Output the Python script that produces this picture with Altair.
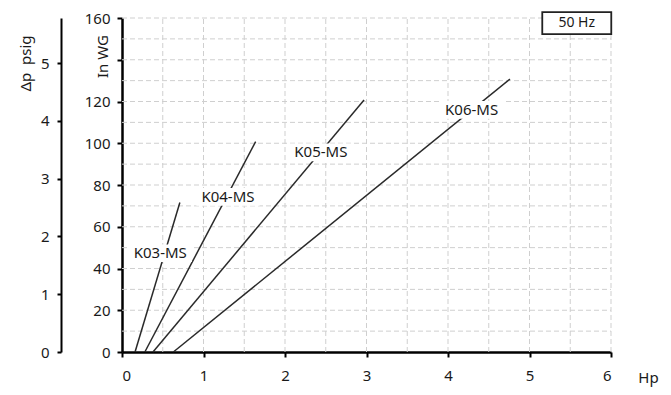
import altair as alt
import pandas as pd

FONT = "Noto Sans"

# Fan curves: two end points each (Hp, In WG)
series = ["K03-MS", "K04-MS", "K05-MS", "K06-MS"]
hp_start = [0.16, 0.28, 0.38, 0.63]
hp_end = [0.71, 1.64, 2.97, 4.76]
wg_start = [0, 0, 0, 0]
wg_end = [71.6, 100.8, 120.7, 130.7]

# label anchor positions
label_hp = [0.47, 1.30, 2.44, 4.29]
label_wg = [47.3, 74.3, 95.6, 116.0]

# grid and ticks
grid_x = [0.5, 1.0, 1.5, 2.0, 2.5, 3.0, 3.5, 4.0, 4.5, 5.0, 5.5, 6.0]
grid_y = [10, 20, 30, 40, 50, 60, 70, 80, 90, 100, 110, 120, 130, 140, 150, 160]
x_ticks = [0, 1, 2, 3, 4, 5, 6]
y_ticks = [0, 20, 40, 60, 80, 100, 120, 140, 160]
psig_ticks = [0, 0.5, 1, 1.5, 2, 2.5, 3, 3.5, 4, 4.5, 5, 5.5]
psig_max = 5.78  # 160 in WG

freq_label = ["50 Hz"]
freq_hp = [5.58]
freq_wg = [157.5]

rows = []
for s, a, b, c, d in zip(series, hp_start, hp_end, wg_start, wg_end):
    rows.append({"series": s, "hp": a, "wg": c, "o": 0})
    rows.append({"series": s, "hp": b, "wg": d, "o": 1})
lines_df = pd.DataFrame(rows)
labels_df = pd.DataFrame({"series": series, "hp": label_hp, "wg": label_wg})
gx_df = pd.DataFrame({"hp": grid_x, "wg": [0] * len(grid_x), "hi": [160] * len(grid_x)})
gy_df = pd.DataFrame({"wg": grid_y, "hp": [0] * len(grid_y), "hi": [6] * len(grid_y)})
freq_df = pd.DataFrame({"t": freq_label, "hp": freq_hp, "wg": freq_wg})
psig_df = pd.DataFrame({"p": [0, psig_max], "hp": [0, 0]})

xs = alt.Scale(domain=[0, 6], nice=False, zero=False)
ys = alt.Scale(domain=[0, 160], nice=False)

TXT = "#1a1a1a"
x_axis = alt.Axis(
    values=x_ticks, title="Hp", grid=False,
    domainColor="black", domainWidth=2.5, tickColor="black", tickWidth=2, tickSize=5,
    labelPadding=11, labelFontSize=15, labelFont=FONT, labelColor=TXT,
    titleFont=FONT, titleFontSize=15, titleFontWeight="normal", titleColor=TXT,
    titleX=526, titleY=25, titleAlign="center", titleBaseline="middle",
)
y_axis = alt.Axis(
    values=y_ticks, title="In WG", grid=False,
    labelExpr="datum.value == 140 ? '' : datum.label",
    domainColor="black", domainWidth=2.5, tickColor="black", tickWidth=2, tickSize=5,
    labelPadding=7, labelFontSize=15, labelFont=FONT, labelColor=TXT,
    titleFont=FONT, titleFontSize=15, titleFontWeight="normal", titleColor=TXT,
    titleX=-20, titleY=38, titleAlign="center", titleBaseline="middle", titleAngle=270,
)

X = alt.X("hp:Q", scale=xs, axis=x_axis, title="Hp")
Y = alt.Y("wg:Q", scale=ys, axis=y_axis, title="In WG")

grid_color = "#cfcfcf"
vgrid = alt.Chart(gx_df).mark_rule(color=grid_color, strokeDash=[5, 3], strokeWidth=1).encode(
    x=X, y=Y, y2="hi:Q",
)
hgrid = alt.Chart(gy_df).mark_rule(color=grid_color, strokeDash=[5, 3], strokeWidth=1).encode(
    x=X, y=Y, x2="hi:Q",
)

lines = alt.Chart(lines_df).mark_line(color="#2a2a2a", strokeWidth=1.5).encode(
    x=X, y=Y, detail="series:N", order="o:Q",
)

label_bg = alt.Chart(labels_df).mark_point(
    shape="M-1,-0.28L1,-0.28L1,0.28L-1,0.28Z", filled=True, color="white", opacity=1, size=4000
).encode(x=X, y=Y)

labels = alt.Chart(labels_df).mark_text(font=FONT, fontSize=15, color=TXT).encode(
    x=X, y=Y, text="series:N"
)

freq_box = alt.Chart(freq_df).mark_point(
    shape="M-1,-0.319L1,-0.319L1,0.319L-1,0.319Z", filled=False, stroke="#222",
    strokeWidth=1.8, fill="white", fillOpacity=1, opacity=1, size=4761
).encode(x=X, y=Y)

freq_text = alt.Chart(freq_df).mark_text(font=FONT, fontSize=14, color=TXT).encode(
    x=X, y=Y, text="t:N"
)

main = alt.layer(vgrid, hgrid, lines, label_bg, labels, freq_box, freq_text)

psig = alt.Chart(psig_df).mark_point(opacity=0).encode(
    x=X,
    y=alt.Y("p:Q", scale=alt.Scale(domain=[0, psig_max], nice=False), axis=alt.Axis(
        orient="left", offset=61, values=psig_ticks, title="Δp\u00a0\u00a0psig", grid=False, format="d",
        labelExpr="datum.value % 1 == 0 ? datum.label : ''",
        domainColor="black", domainWidth=2, tickColor="black", tickWidth=2, tickSize=4,
        labelPadding=8, labelFontSize=15, labelFont=FONT, labelColor=TXT,
        titleFont=FONT, titleFontSize=15, titleFontWeight="normal", titleColor=TXT,
        titleX=-36, titleY=45, titleAlign="center", titleBaseline="middle", titleAngle=270,
    )),
)

chart = alt.layer(main, psig).resolve_scale(y="independent").properties(
    width=489, height=334,
    autosize=alt.AutoSizeParams(type="none"),
    padding={"left": 114, "top": 10, "right": 48, "bottom": 35},
    background="white",
).configure_view(strokeWidth=0)

chart.save("out.html", embed_options={"renderer": "svg", "actions": False})
